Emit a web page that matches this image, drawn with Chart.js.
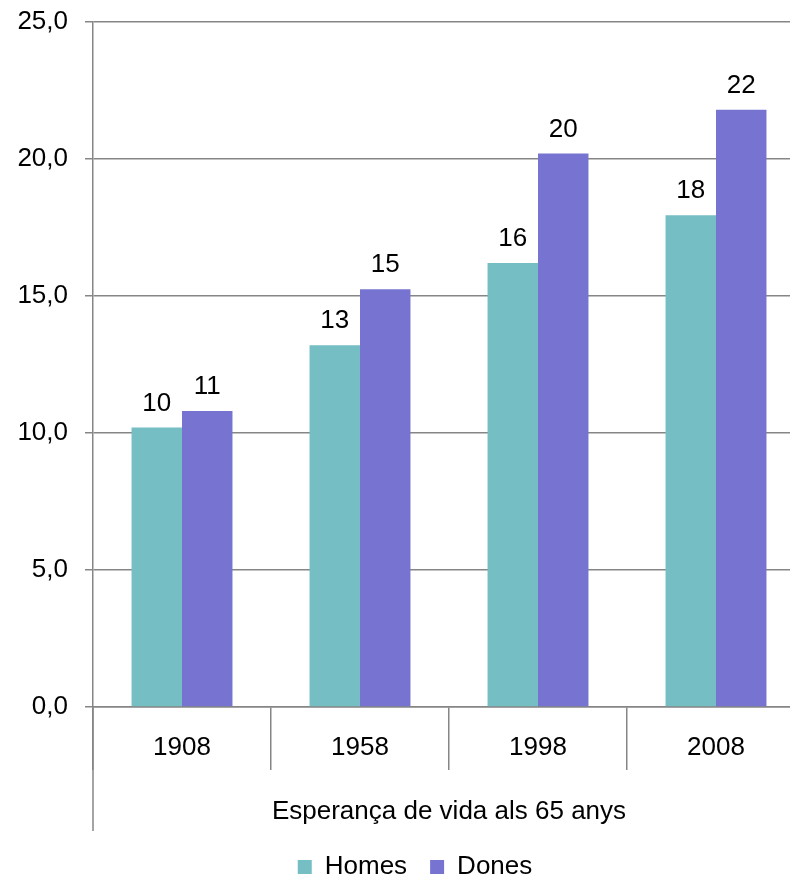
<!DOCTYPE html>
<html>
<head>
<meta charset="utf-8">
<script src="https://cdn.jsdelivr.net/npm/chart.js@4/dist/chart.umd.min.js"></script>
<style>
  html, body { margin: 0; padding: 0; background: #fff; overflow: hidden; }
</style>
</head>
<body>
<canvas id="chart" width="830" height="890"></canvas>
<script>
const years = ['1908', '1958', '1998', '2008'];
const homes = [10.2, 13.2, 16.2, 17.95];
const dones = [10.8, 15.25, 20.2, 21.8];
const yTicks = [0, 5, 10, 15, 20, 25];
const axisTitle = 'Esperança de vida als 65 anys';

const FONT = '"Liberation Sans", Arial, sans-serif';
const gridColor = '#868686';

// value labels above each bar (rounded, like the original)
const barLabels = {
  id: 'barLabels',
  afterDatasetsDraw(chart) {
    const ctx = chart.ctx;
    ctx.save();
    ctx.font = '26px ' + FONT;
    ctx.fillStyle = '#000';
    ctx.textAlign = 'center';
    ctx.textBaseline = 'alphabetic';
    chart.data.datasets.forEach((ds, i) => {
      chart.getDatasetMeta(i).data.forEach((bar, j) => {
        ctx.fillText(Math.round(ds.data[j]), bar.x, bar.y - 17);
      });
    });
    ctx.restore();
  }
};

// left axis line runs on down past the category labels
const axisExtend = {
  id: 'axisExtend',
  afterDraw(chart) {
    const { ctx, chartArea, scales } = chart;
    ctx.save();
    ctx.strokeStyle = gridColor;
    ctx.lineWidth = 1.5;
    ctx.beginPath();
    ctx.moveTo(chartArea.left, chartArea.bottom);
    ctx.lineTo(chartArea.left, scales.x.bottom);
    ctx.stroke();
    ctx.restore();
  }
};

new Chart(document.getElementById('chart'), {
  type: 'bar',
  data: {
    labels: years,
    datasets: [
      { label: 'Homes', data: homes, backgroundColor: '#74bec4' },
      { label: 'Dones', data: dones, backgroundColor: '#7674d0' }
    ]
  },
  options: {
    responsive: false,
    animation: false,
    layout: { padding: { top: 22, left: 0, right: 0, bottom: 0 } },
    categoryPercentage: 0.567,
    barPercentage: 1,
    plugins: {
      tooltip: { enabled: false },
      legend: {
        position: 'bottom',
        labels: {
          boxWidth: 14,
          boxHeight: 14,
          padding: 23,
          color: '#000',
          font: { family: FONT, size: 26 }
        }
      }
    },
    scales: {
      x: {
        grid: {
          offset: true,
          drawOnChartArea: false,
          tickLength: 63,
          color: gridColor,
          lineWidth: 1.5
        },
        border: { display: true, color: gridColor, width: 1.5 },
        ticks: { padding: -38, color: '#000', font: { family: FONT, size: 26 } },
        title: {
          display: true,
          text: axisTitle,
          color: '#000',
          font: { family: FONT, size: 26 },
          padding: { top: 0, bottom: 4 }
        },
        afterFit(scale) { scale.height = 124; }
      },
      y: {
        min: 0,
        max: 25,
        afterBuildTicks(scale) { scale.ticks = yTicks.map(v => ({ value: v })); },
        grid: { color: gridColor, lineWidth: 1.5, tickLength: 8 },
        border: { display: true, color: gridColor, width: 1.5 },
        ticks: {
          padding: 17,
          color: '#000',
          font: { family: FONT, size: 26 },
          callback: v => v.toFixed(1).replace('.', ',')
        },
        afterFit(scale) {
          scale.width = 93;
          scale.paddingTop = 0;
          scale.paddingBottom = 0;
        }
      },
      // empty spacer on the right so the plot runs past the picture edge
      spacer: {
        type: 'linear',
        position: 'right',
        display: true,
        grid: { display: false },
        border: { display: false },
        ticks: { display: false },
        afterFit(scale) { scale.width = 25; }
      }
    }
  },
  plugins: [barLabels, axisExtend]
});
</script>
</body>
</html>
